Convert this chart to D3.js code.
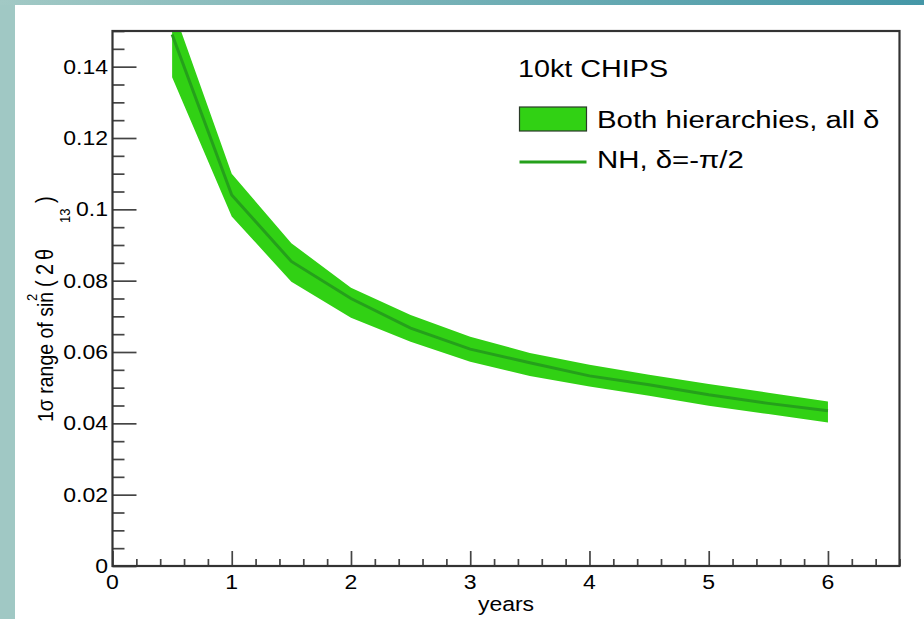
<!DOCTYPE html>
<html>
<head>
<meta charset="utf-8">
<script src="https://cdn.jsdelivr.net/npm/d3@7"></script>
<style>
  html, body { margin: 0; padding: 0; background: #a0c8c4; }
  svg { display: block; }
  text { font-family: "Liberation Sans", Arial, sans-serif; fill: #000; }
</style>
</head>
<body>
<div id="container"></div>
<script>
// exposure in years and 1 sigma range of sin^2(2 theta13)
const years = [0.5, 1, 1.5, 2, 2.5, 3, 3.5, 4, 4.5, 5, 5.5, 6];
const bandUpper = [0.157, 0.110, 0.0905, 0.078, 0.0704, 0.0643, 0.0597, 0.0564, 0.0536, 0.0510, 0.0486, 0.0461];
const bandLower = [0.137, 0.098, 0.0797, 0.0696, 0.0629, 0.0573, 0.0533, 0.0503, 0.0477, 0.0449, 0.0426, 0.0402];
const nhValues = [0.149, 0.104, 0.0854, 0.075, 0.0667, 0.0608, 0.0570, 0.0533, 0.0508, 0.0480, 0.0456, 0.0435];

const xTicks = [0, 1, 2, 3, 4, 5, 6];
const yTicks = [0, 0.02, 0.04, 0.06, 0.08, 0.1, 0.12, 0.14];
const yTickLabels = ["0", "0.02", "0.04", "0.06", "0.08", "0.1", "0.12", "0.14"];

const legendTitle = "10kt CHIPS";
const legendBand = "Both hierarchies, all \u03b4";
const legendLine = "NH, \u03b4=-\u03c0/2";

const w = 924;
const h = 619;
const padLeft = 112.5, padRight = 899.5, padTop = 31, padBottom = 566;
const sx = 1.25; // picture is stretched sideways
const sxTick = 1.18;
const bandColor = "#31d114";
const lineColor = "#25a01b";

const xScale = d3.scaleLinear().domain([0, 6.6]).range([padLeft, padRight]);
const yScale = d3.scaleLinear().domain([0, 0.15]).range([padBottom, padTop]);

const svg = d3.select("#container")
  .append("svg")
  .attr("width", w)
  .attr("height", h);

const defs = svg.append("defs");
const grad = defs.append("linearGradient").attr("id", "topbar");
grad.append("stop").attr("offset", "0%").attr("stop-color", "#a2c9c5");
grad.append("stop").attr("offset", "100%").attr("stop-color", "#4597a7");
defs.append("clipPath").attr("id", "frame")
  .append("rect")
  .attr("x", padLeft).attr("y", padTop)
  .attr("width", padRight - padLeft).attr("height", padBottom - padTop);

svg.append("rect").attr("x", 0).attr("y", 0).attr("width", w).attr("height", 5).attr("fill", "url(#topbar)");
svg.append("rect").attr("x", 15).attr("y", 5).attr("width", w - 15).attr("height", h - 5).attr("fill", "#fff");

const series = years.map((y, i) => ({ x: y, lo: bandLower[i], hi: bandUpper[i], nh: nhValues[i] }));

const plot = svg.append("g").attr("clip-path", "url(#frame)");

plot.append("path")
  .datum(series)
  .attr("fill", bandColor)
  .attr("d", d3.area().x(d => xScale(d.x)).y0(d => yScale(d.lo)).y1(d => yScale(d.hi)));

plot.append("path")
  .datum(series)
  .attr("fill", "none")
  .attr("stroke", lineColor)
  .attr("stroke-width", 3)
  .attr("d", d3.line().x(d => xScale(d.x)).y(d => yScale(d.nh)));

// ticks
const minorY = d3.range(0, 31).map(i => i * 0.005);
const minorX = d3.range(0, 34).map(i => i * 0.2);

const yAxis = d3.axisRight(yScale)
  .tickValues(minorY)
  .tickSize(12)
  .tickFormat("");
svg.append("g")
  .attr("transform", `translate(${padLeft},0)`)
  .call(yAxis)
  .call(g => g.select(".domain").remove())
  .call(g => g.selectAll(".tick line")
    .attr("x2", d => yTicks.some(t => Math.abs(t - d) < 1e-9) ? 24 : 12)
    .attr("stroke", "#444").attr("stroke-width", 1.7));

const xAxis = d3.axisTop(xScale)
  .tickValues(minorX)
  .tickSize(7)
  .tickFormat("");
svg.append("g")
  .attr("transform", `translate(0,${padBottom})`)
  .call(xAxis)
  .call(g => g.select(".domain").remove())
  .call(g => g.selectAll(".tick line")
    .attr("y2", d => xTicks.some(t => Math.abs(t - d) < 1e-9) ? -15 : -7)
    .attr("stroke", "#444").attr("stroke-width", 1.7));

svg.append("rect")
  .attr("x", padLeft).attr("y", padTop)
  .attr("width", padRight - padLeft).attr("height", padBottom - padTop)
  .attr("fill", "none")
  .attr("stroke", "#333")
  .attr("stroke-width", 2.2);

// tick labels
svg.selectAll(".ylab")
  .data(yTicks)
  .enter()
  .append("text")
  .attr("class", "ylab")
  .attr("transform", d => `translate(108,${yScale(d) + 7}) scale(${sxTick},1)`)
  .style("text-anchor", "end")
  .style("font-size", "19.5px")
  .text((d, i) => yTickLabels[i]);

svg.selectAll(".xlab")
  .data(xTicks)
  .enter()
  .append("text")
  .attr("class", "xlab")
  .attr("transform", d => `translate(${xScale(d)},589) scale(${sxTick},1)`)
  .style("text-anchor", "middle")
  .style("font-size", "19.5px")
  .text(d => d);

svg.append("text")
  .attr("transform", `translate(${(padLeft + padRight) / 2},611) scale(${sxTick},1)`)
  .style("text-anchor", "middle")
  .style("font-size", "19.5px")
  .text("years");

// y title, pieces placed along the rotated baseline
const yTitle = svg.append("text")
  .attr("transform", `translate(53,422) scale(1.15,1) rotate(-90)`)
  .style("font-size", "19.5px");
yTitle.append("tspan").attr("x", 0).attr("y", 0).text("1\u03c3 range of sin");
yTitle.append("tspan").attr("x", 121).attr("y", -14).style("font-size", "13px").text("2");
yTitle.append("tspan").attr("x", 135).attr("y", 0).style("font-size", "20px").text("(");
yTitle.append("tspan").attr("x", 147).attr("y", 0).style("font-size", "20px").text("2");
yTitle.append("tspan").attr("x", 162).attr("y", 0).style("font-size", "20px").text("\u03b8");
yTitle.append("tspan").attr("x", 199).attr("y", 15).style("font-size", "13px").text("13");
yTitle.append("tspan").attr("x", 219).attr("y", 0).style("font-size", "20px").text(")");

// legend
svg.append("text")
  .attr("transform", `translate(518,77) scale(${sx},1)`)
  .style("font-size", "23px")
  .text(legendTitle);

svg.append("rect")
  .attr("x", 519.5).attr("y", 107)
  .attr("width", 67).attr("height", 24)
  .attr("fill", bandColor)
  .attr("stroke", "#2a3a28")
  .attr("stroke-width", 1.2);

svg.append("text")
  .attr("transform", `translate(597,128) scale(${sx},1)`)
  .style("font-size", "23.5px")
  .text(legendBand);

svg.append("line")
  .attr("x1", 519.5).attr("x2", 586.5)
  .attr("y1", 162).attr("y2", 162)
  .attr("stroke", lineColor)
  .attr("stroke-width", 3);

svg.append("text")
  .attr("transform", `translate(597,168) scale(${sx},1)`)
  .style("font-size", "23.5px")
  .text(legendLine);
</script>
</body>
</html>
